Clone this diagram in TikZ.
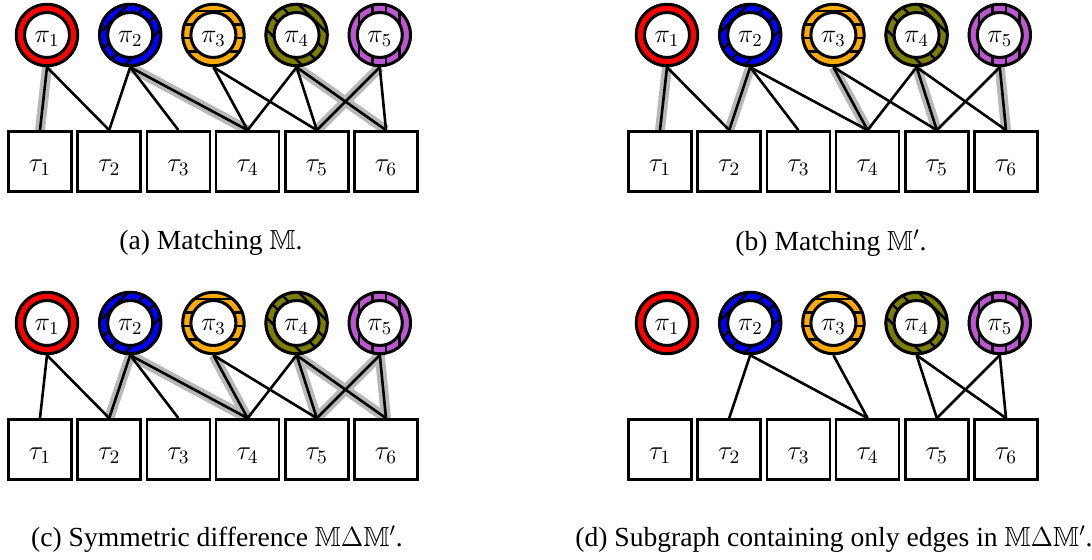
\RequirePackage{fix-cm}
\documentclass[tikz,border=0pt]{standalone}
\usepackage{amssymb}
\usepackage{fontspec}
\setmainfont{Liberation Serif}
\newfontfamily\capfont{Liberation Serif}
\pgfdeclarelayer{bg}
\pgfsetlayers{bg,main}
\definecolor{cred}{RGB}{255,0,0}
\definecolor{cblue}{RGB}{0,0,255}
\definecolor{corange}{RGB}{255,170,0}
\definecolor{colive}{RGB}{125,125,0}
\definecolor{cpurple}{RGB}{190,85,210}
\definecolor{hl}{gray}{0.72}
\tikzset{
  pinode/.style={circle, draw, line width=1.5pt, minimum size=30.7pt, inner sep=0pt, font=\fontsize{13}{15}\selectfont},
  taunode/.style={rectangle, draw, line width=1.35pt, minimum width=31.5pt, minimum height=30pt, inner sep=0pt, fill=white, font=\fontsize{13.5}{16}\selectfont},
  edgeline/.style={line width=1.3pt},
  hiline/.style={line width=5pt, hl},
  patline/.style={line width=1.2pt},
  innerring/.style={line width=1.5pt, fill=white},
  caption/.style={font=\capfont\fontsize{13.8}{16}\selectfont}
}
\newcommand\drawpanel[5]{%
\begin{scope}[shift={(#2,#3)}]
\foreach \i/\col/\pat/\ang/\off in {1/cred/0/0/0, 2/cblue/1/45/4, 3/corange/1/0/3, 4/colive/1/-45/4, 5/cpurple/1/90/6} {
  \pgfmathsetmacro\cx{47+83.2*(\i-1)}
  \begin{scope}
    \clip (\cx,35) circle (16pt);
    \fill[\col] (\cx,35) circle (16pt);
    \ifnum\pat=1
      \begin{scope}[shift={(\cx,35)},rotate=\ang]
        \foreach \k in {-3,...,3} \draw[patline] (-40,\k*13.5+\off) -- (40,\k*13.5+\off);
      \end{scope}
    \fi
  \end{scope}
  \draw[innerring] (\cx,35) circle (11.25pt);
  \node[pinode] (#1p\i) at (\cx,35) {\raisebox{-4pt}[0pt][0pt]{$\pi_{\i}$}};
}
\foreach \j in {1,...,6} {
  \pgfmathsetmacro\bx{40+69.2*(\j-1)}
  \node[taunode] (#1t\j) at (\bx,161.5) {\raisebox{-5.1pt}[0pt][0pt]{$\tau_{\j}$}};
}
\begin{pgfonlayer}{bg}
  \foreach \i/\j in {#5} \draw[hiline] (#1p\i.south) -- (#1t\j.north);
  \foreach \i/\j in {#4} \draw[edgeline] (#1p\i.south) -- (#1t\j.north);
\end{pgfonlayer}
\end{scope}}
\begin{document}
\begin{tikzpicture}[x=0.5pt,y=-0.5pt]
\useasboundingbox (0,0) rectangle (1092,560);
\drawpanel{a}{0}{0}{1/1,1/2,2/2,2/3,2/4,3/4,3/5,4/4,4/5,4/6,5/5,5/6}{1/1,2/4,4/6,5/5}
\drawpanel{b}{620}{0}{1/1,1/2,2/2,2/3,2/4,3/4,3/5,4/4,4/5,4/6,5/5,5/6}{1/1,2/2,3/4,4/5,5/6}
\drawpanel{c}{0}{288}{1/1,1/2,2/2,2/3,2/4,3/4,3/5,4/4,4/5,4/6,5/5,5/6}{2/2,2/4,3/4,4/5,4/6,5/5,5/6}
\drawpanel{d}{620}{288}{2/2,2/4,3/4,4/5,4/6,5/5,5/6}{}
\node[caption] (capa) at (211,243) {(a) Matching $\mathbb{M}$.};
\node[caption] (capb) at (831,243) {(b) Matching $\mathbb{M}'$.};
\node[caption] (capc) at (217,539) {(c) Symmetric difference $\mathbb{M}\Delta\mathbb{M}'$.};
\node[caption] (capd) at (834,539) {(d) Subgraph containing only edges in $\mathbb{M}\Delta\mathbb{M}'$.};
\end{tikzpicture}
\end{document}
